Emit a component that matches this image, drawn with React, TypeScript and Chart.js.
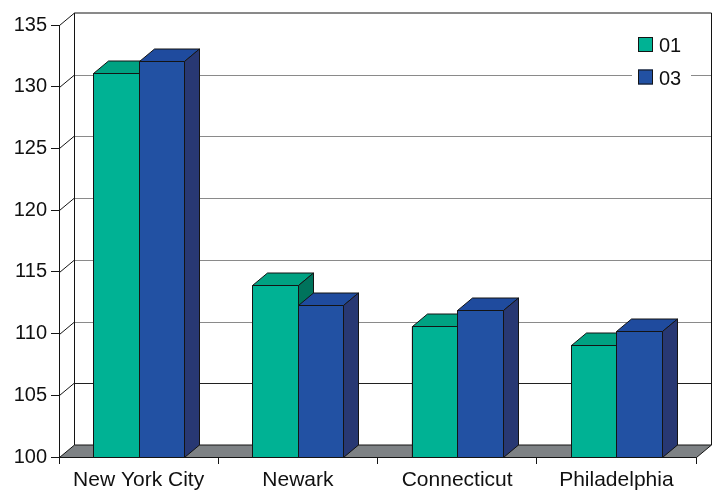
import React, { useEffect, useRef } from "react";
import { Chart, registerables } from "chart.js";

Chart.register(...registerables);

const categories = ["New York City", "Newark", "Connecticut", "Philadelphia"];
const seriesLabels = ["01", "03"];
const series01 = [131.1, 113.9, 110.6, 109.1];
const series03 = [132.1, 112.3, 111.9, 110.2];
const yMin = 100;
const yMax = 135;
const yStep = 5;

const DX = 15;
const DY = -12.5;
const FONT = "'Liberation Sans', Arial, sans-serif";
const EDGE = "#141414";

const faceColors = [
  { front: "#00B294", top: "#00A282", side: "#00735C" },
  { front: "#2251A3", top: "#1F4B9E", side: "#283873" },
];

function poly(ctx: CanvasRenderingContext2D, pts: number[][], fill: string, stroke: string) {
  ctx.beginPath();
  ctx.moveTo(pts[0][0], pts[0][1]);
  for (let i = 1; i < pts.length; i++) ctx.lineTo(pts[i][0], pts[i][1]);
  ctx.closePath();
  ctx.fillStyle = fill;
  ctx.fill();
  ctx.strokeStyle = stroke;
  ctx.lineWidth = 1;
  ctx.stroke();
}

function line(ctx: CanvasRenderingContext2D, x1: number, y1: number, x2: number, y2: number, color: string) {
  ctx.beginPath();
  ctx.moveTo(x1, y1);
  ctx.lineTo(x2, y2);
  ctx.strokeStyle = color;
  ctx.lineWidth = 1;
  ctx.stroke();
}

const threeD = {
  id: "threeD",
  beforeDatasetsDraw(chart: any) {
    const { ctx, chartArea: a, scales } = chart;
    const y = scales.y;
    ctx.save();
    const L = a.left + 0.5;
    const R = a.right + 0.5;
    const T = Math.round(a.top) + 0.5;
    const B = Math.round(a.bottom) + 0.5;
    y.ticks.forEach((t: any) => {
      const v = t.value;
      const yy = Math.round(y.getPixelForValue(v)) + 0.5;
      if (v > yMin && v < yMax) {
        const gy = Math.round(yy + DY) + 0.5;
        line(ctx, L + DX, gy, R + DX, gy, v === 105 ? "#202020" : "#8a8a8a");
      }
      if (v > yMin) line(ctx, L, yy, L + DX, yy + DY, EDGE);
    });
    line(ctx, L + DX, T + DY, L + DX, B + DY, EDGE);
    line(ctx, L + DX, T + DY, R + DX, T + DY, EDGE);
    line(ctx, R + DX, T + DY, R + DX, B + DY, EDGE);
    poly(ctx, [[L, B], [R, B], [R + DX, B + DY], [L + DX, B + DY]], "#7E8285", EDGE);
    ctx.restore();
  },
  afterDatasetsDraw(chart: any) {
    const { ctx, chartArea: a } = chart;
    ctx.save();
    const metas = chart.data.datasets.map((_: any, i: number) => chart.getDatasetMeta(i));
    const n = chart.data.labels.length;
    for (let k = 0; k < n; k++) {
      metas.forEach((meta: any, d: number) => {
        const c = faceColors[d];
        const el = meta.data[k];
        const p = el.getProps(["x", "y", "base", "width"], true);
        const l = Math.round(p.x - p.width / 2) + 0.5;
        const r = Math.round(p.x + p.width / 2) + 0.5;
        const t = Math.round(p.y) + 0.5;
        const b = Math.min(p.base, a.bottom) + 0.5;
        poly(ctx, [[l, t], [r, t], [r, b], [l, b]], c.front, EDGE);
        poly(ctx, [[l, t], [r, t], [r + DX, t + DY], [l + DX, t + DY]], c.top, EDGE);
        poly(ctx, [[r, t], [r + DX, t + DY], [r + DX, b + DY], [r, b]], c.side, EDGE);
      });
    }
    ctx.restore();
  },
  afterDraw(chart: any) {
    const { ctx } = chart;
    ctx.save();
    ctx.fillStyle = "#ffffff";
    ctx.fillRect(632, 30, 59, 62);
    ctx.font = `20px ${FONT}`;
    ctx.textBaseline = "alphabetic";
    ctx.textAlign = "left";
    const rows = [37, 69.5];
    chart.data.datasets.forEach((ds: any, i: number) => {
      const top = rows[i];
      ctx.fillStyle = faceColors[i].front;
      ctx.fillRect(638, top, 15, 15);
      ctx.strokeStyle = EDGE;
      ctx.lineWidth = 1;
      ctx.strokeRect(638.5, top + 0.5, 14, 14);
      ctx.fillStyle = "#111111";
      ctx.fillText(ds.label, 659, top + 15);
    });
    ctx.restore();
  },
};

export default function App() {
  const ref = useRef<HTMLCanvasElement | null>(null);
  useEffect(() => {
    if (!ref.current) return;
    const chart = new Chart(ref.current, {
      type: "bar",
      data: {
        labels: categories,
        datasets: [
          {
            label: seriesLabels[0],
            data: series01,
            backgroundColor: faceColors[0].front,
            borderColor: EDGE,
            borderWidth: 1,
          },
          {
            label: seriesLabels[1],
            data: series03,
            backgroundColor: faceColors[1].front,
            borderColor: EDGE,
            borderWidth: 1,
          },
        ],
      },
      options: {
        responsive: false,
        animation: false,
        devicePixelRatio: 1,
        layout: { padding: { top: 25, right: 21, left: 0, bottom: 0 } },
        datasets: { bar: { categoryPercentage: 0.571, barPercentage: 1 } },
        plugins: {
          legend: { display: false },
          tooltip: { enabled: false },
        },
        scales: {
          x: {
            grid: { offset: true, drawOnChartArea: false, tickLength: 7, color: EDGE },
            border: { color: EDGE },
            ticks: {
              font: { family: FONT, size: 21 },
              color: "#111111",
              maxRotation: 0,
              autoSkip: false,
              padding: 4,
            },
            afterFit: (s: any) => {
              s.height = 34;
            },
          },
          y: {
            min: yMin,
            max: yMax,
            grid: { drawOnChartArea: false, tickLength: 8, color: EDGE },
            border: { color: EDGE },
            ticks: {
              stepSize: yStep,
              font: { family: FONT, size: 20 },
              color: "#111111",
              padding: 4,
            },
            afterFit: (s: any) => {
              s.width = 59;
            },
          },
        },
      },
      plugins: [threeD],
    });
    return () => chart.destroy();
  }, []);
  return (
    <div style={{ position: "absolute", left: 0, top: 0, width: 717, height: 491 }}>
      <canvas ref={ref} width={717} height={491} />
    </div>
  );
}
